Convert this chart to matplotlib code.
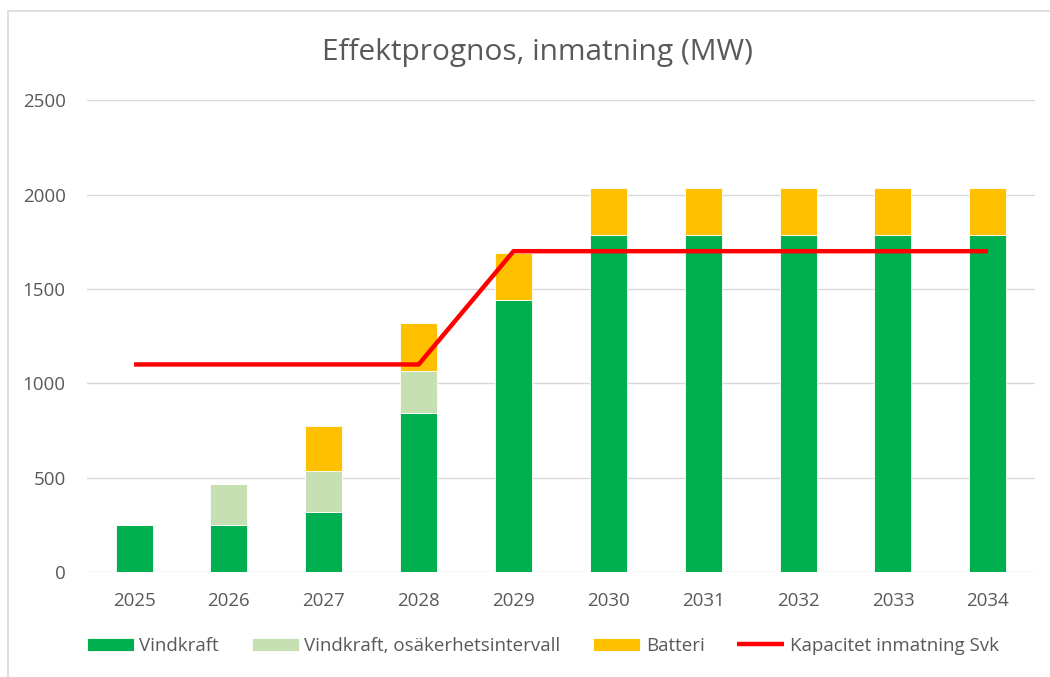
import matplotlib.pyplot as plt
import numpy as np
from matplotlib.patches import Rectangle

years = ["2025", "2026", "2027", "2028", "2029", "2030", "2031", "2032", "2033", "2034"]
vindkraft = [250, 250, 320, 845, 1440, 1785, 1785, 1785, 1785, 1785]
osakerhet = [0, 215, 215, 220, 0, 0, 0, 0, 0, 0]
batteri = [0, 0, 240, 255, 250, 250, 250, 250, 250, 250]
kapacitet = [1100, 1100, 1100, 1100, 1700, 1700, 1700, 1700, 1700, 1700]

TXT = "#595959"
plt.rcParams["font.family"] = ["Open Sans", "DejaVu Sans"]

fig = plt.figure(figsize=(10.5, 6.77), dpi=100)
ax = fig.add_axes([0.0825, 0.155, 0.9035, 0.697])

# chart frame (light grey border, as in the Excel export)
fig.patches.append(Rectangle((8 / 1050, -0.1), 1.2, 1 - 11 / 677 + 0.1,
                             transform=fig.transFigure, fill=False,
                             edgecolor="#d9d9d9", linewidth=1.2, zorder=0))

x = np.arange(len(years))
w = 0.39
v = np.array(vindkraft)
o = np.array(osakerhet)
b = np.array(batteri)

ax.bar(x, v, w, color="#00B050", edgecolor="white", linewidth=0.6,
       label="Vindkraft", zorder=3)
ax.bar(x, o, w, bottom=v, color="#C6E0B4", edgecolor="white", linewidth=0.6,
       label="Vindkraft, osäkerhetsintervall", zorder=3)
ax.bar(x, b, w, bottom=v + o, color="#FFC000", edgecolor="white", linewidth=0.6,
       label="Batteri", zorder=3)
ax.plot(x, kapacitet, color="#FF0000", linewidth=3.2,
        label="Kapacitet inmatning Svk", zorder=4, solid_capstyle="butt")

ax.set_xlim(-0.5, len(years) - 0.5)
ax.set_ylim(0, 2500)
ax.set_yticks(np.arange(0, 2501, 500))
ax.set_xticks(x)
ax.set_xticklabels(years)
ax.grid(axis="y", color="#d9d9d9", linewidth=1.0, zorder=0)
ax.set_axisbelow(True)
for s in ax.spines.values():
    s.set_visible(False)
ax.tick_params(length=0, colors=TXT, labelsize=13.5)
ax.tick_params(axis="y", pad=15)
ax.tick_params(axis="x", pad=14)

fig.text(0.512, 0.923, "Effektprognos, inmatning (MW)", ha="center", va="center",
         fontsize=21.5, color=TXT)

handles, labels = ax.get_legend_handles_labels()
order = [1, 2, 3, 0]
leg = fig.legend([handles[i] for i in order], [labels[i] for i in order],
                 loc="center", bbox_to_anchor=(0.517, 0.046), ncol=4, frameon=False,
                 fontsize=13.5, handlelength=2.5, handleheight=0.7,
                 handletextpad=0.3, columnspacing=1.75)
for t in leg.get_texts():
    t.set_color(TXT)

fig.savefig("out.png", dpi=100)
